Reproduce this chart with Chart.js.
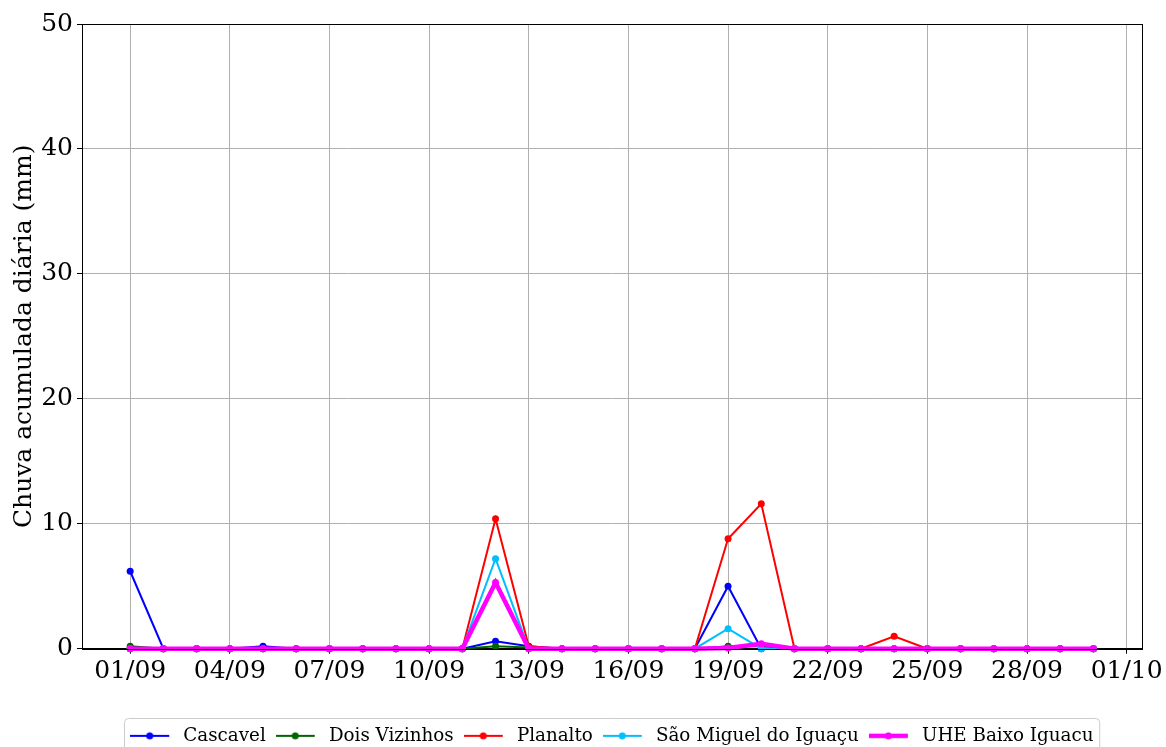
<!DOCTYPE html>
<html>
<head>
<meta charset="utf-8">
<script src="https://cdn.jsdelivr.net/npm/chart.js@4/dist/chart.umd.min.js"></script>
<style>
  html, body { margin: 0; padding: 0; background: #fff; }
  #wrap { width: 1166px; height: 747px; position: relative; }
</style>
</head>
<body>
<div id="wrap"><canvas id="c"></canvas></div>
<script>
// ---- Data ----
const days = ['01/09','02/09','03/09','04/09','05/09','06/09','07/09','08/09','09/09','10/09',
              '11/09','12/09','13/09','14/09','15/09','16/09','17/09','18/09','19/09','20/09',
              '21/09','22/09','23/09','24/09','25/09','26/09','27/09','28/09','29/09','30/09'];
const tickLabels = ['01/09','04/09','07/09','10/09','13/09','16/09','19/09','22/09','25/09','28/09','01/10'];
const yTicks = [0, 10, 20, 30, 40, 50];

const cascavel     = [6.2,0,0,0,0.2,0,0,0,0,0, 0,0.6,0.2,0,0,0,0,0,5.0,0, 0,0,0,0,0,0,0,0,0,0];
const doisVizinhos = [0.2,0,0,0,0,0,0,0,0,0, 0,0.2,0.1,0,0,0,0,0,0.2,0.2, 0,0,0,0,0,0,0,0,0,0];
const planalto     = [0,0,0,0,0,0,0,0,0,0, 0,10.4,0.2,0,0,0,0,0,8.8,11.6, 0,0,0,1.0,0,0,0,0,0,0];
const saoMiguel    = [0,0,0,0,0,0,0,0,0,0, 0,7.2,0,0,0,0,0,0,1.6,0, 0,0,0,0,0,0,0,0,0,0];
const uheBaixo     = [0,0,0,0,0,0,0,0,0,0, 0,5.3,0,0,0,0,0,0,0.05,0.4, 0,0,0,0,0,0,0,0,0,0];

const seriesNames  = ['Cascavel','Dois Vizinhos','Planalto','São Miguel do Iguaçu','UHE Baixo Iguacu'];
const seriesValues = [cascavel, doisVizinhos, planalto, saoMiguel, uheBaixo];
const seriesColors = ['#0000ff','#006400','#ff0000','#00bfff','#ff00ff'];
const seriesWidths = [2, 2, 2, 2, 4.5];

const FONT = "'DejaVu Serif', serif";

function legendSample(color, width) {
  const cv = document.createElement('canvas');
  cv.width = 44; cv.height = 12;
  const g = cv.getContext('2d');
  g.strokeStyle = color; g.lineWidth = width;
  g.beginPath(); g.moveTo(0, 6); g.lineTo(39, 6); g.stroke();
  g.fillStyle = color;
  g.beginPath(); g.arc(19.5, 6, 3.5, 0, Math.PI * 2); g.fill();
  return cv;
}
const samples = seriesColors.map((c, i) => legendSample(c, seriesWidths[i]));

const datasets = seriesNames.map((name, i) => ({
  label: name,
  data: seriesValues[i].map((v, j) => ({ x: j, y: v })),
  borderColor: seriesColors[i],
  backgroundColor: seriesColors[i],
  borderWidth: seriesWidths[i],
  pointRadius: 3.5,
  pointHoverRadius: 3.5,
  pointBorderWidth: 0,
  pointBackgroundColor: seriesColors[i],
  tension: 0,
  clip: false,
  order: seriesNames.length - i
}));

const frame = {
  id: 'frame',
  afterDraw(chart) {
    const { ctx, chartArea: a } = chart;
    ctx.save();
    ctx.strokeStyle = '#000'; ctx.lineWidth = 1;
    ctx.strokeRect(Math.round(a.left) + 0.5, Math.round(a.top) + 0.5,
                   Math.round(a.right - a.left), Math.round(a.bottom - a.top));
    const hb = chart.legend && chart.legend.legendHitBoxes;
    if (hb && hb.length) {
      let l = Infinity, r = -Infinity, t = Infinity;
      hb.forEach(h => { l = Math.min(l, h.left); r = Math.max(r, h.left + h.width); t = Math.min(t, h.top); });
      const x0 = l - 6, x1 = r + 6, y0 = t - 9, y1 = chart.height + 10;
      ctx.strokeStyle = '#cccccc'; ctx.lineWidth = 1;
      ctx.beginPath();
      ctx.roundRect(Math.round(x0) + 0.5, Math.round(y0) + 0.5, x1 - x0, y1 - y0, 4);
      ctx.stroke();
    }
    ctx.restore();
  }
};

new Chart(document.getElementById('c'), {
  type: 'line',
  data: { datasets },
  plugins: [frame],
  options: {
    responsive: true,
    maintainAspectRatio: false,
    animation: false,
    events: [],
    layout: { padding: { top: 24, right: 23, left: 0, bottom: -8 } },
    plugins: {
      tooltip: { enabled: false },
      legend: {
        position: 'bottom',
        fullSize: false,
        labels: {
          usePointStyle: true,
          pointStyleWidth: 44,
          padding: 10,
          color: '#000',
          font: { family: FONT, size: 18.3 },
          generateLabels: () => seriesNames.map((n, i) => ({
            text: n, pointStyle: samples[i], datasetIndex: i, hidden: false,
            fillStyle: seriesColors[i], strokeStyle: seriesColors[i], lineWidth: 0, fontColor: '#000'
          }))
        }
      }
    },
    scales: {
      x: {
        type: 'linear',
        min: -1.45,
        max: 30.45,
        afterBuildTicks: s => { s.ticks = tickLabels.map((_, k) => ({ value: k * 3 })); },
        afterFit: s => { s.height = 68; },
        ticks: {
          autoSkip: false, maxRotation: 0, padding: 3, color: '#000',
          font: { family: FONT, size: 25 },
          callback: v => tickLabels[Math.round(v / 3)]
        },
        grid: { color: '#b0b0b0', lineWidth: 1, tickLength: 5, tickColor: '#000', drawTicks: true },
        border: { color: '#000', width: 1 }
      },
      y: {
        min: 0,
        max: 50,
        afterBuildTicks: s => { s.ticks = yTicks.map(v => ({ value: v })); },
        afterFit: s => { s.width = 82; },
        ticks: { padding: 4, color: '#000', font: { family: FONT, size: 25 } },
        grid: { color: '#b0b0b0', lineWidth: 1, tickLength: 5, tickColor: '#000' },
        border: { color: '#000', width: 1 },
        title: {
          display: true,
          text: 'Chuva acumulada diária (mm)',
          color: '#000',
          font: { family: FONT, size: 25 },
          padding: { top: 9, bottom: 0 }
        }
      }
    }
  }
});
</script>
</body>
</html>
